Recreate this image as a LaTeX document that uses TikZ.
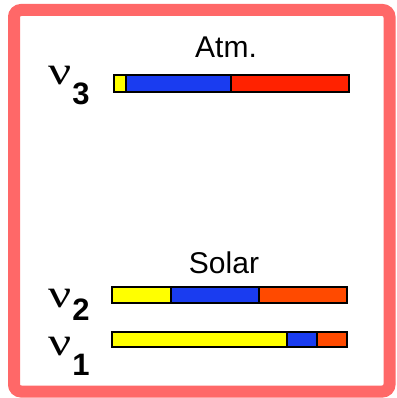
\documentclass[tikz,border=0pt]{standalone}
\usepackage{fontspec}
\usepackage{graphicx}
\setmainfont{Liberation Sans}
\newfontfamily\grk{Liberation Serif}
\definecolor{frame}{HTML}{FF6868}
\definecolor{by}{HTML}{FFFF00}
\definecolor{bb}{HTML}{1A3CF0}
\definecolor{br}{HTML}{FF2200}
\definecolor{bo}{HTML}{FF4A00}
\tikzset{
  seg/.style={draw=black, line width=1.6pt},
  head/.style={font=\fontsize{30}{36}\selectfont, inner sep=0pt, anchor=base},
  nulab/.style={inner sep=0pt, anchor=base west},
}
\newcommand{\nulabel}[2]{\scalebox{1.28}[1]{\grk\fontsize{40}{44}\selectfont ν}\hspace{1pt}\raisebox{-#2pt}{\fontsize{31}{36}\selectfont\bfseries #1}}
\begin{document}
\begin{tikzpicture}[x=1pt,y=-1pt]
\useasboundingbox (0,0) rectangle (396,398);
\draw[frame, line width=12pt, rounded corners=7pt] (14,10) rectangle (389.5,391.5);
% headings
\node[head] (atm) at (226,58) {Atm.};
\node[head] (solar) at (224,273) {Solar};
% labels
\node[nulab] (n3) at (48,85) {\nulabel{3}{20}};
\node[nulab] (n2) at (48,307) {\nulabel{2}{13}};
\node[nulab] (n1) at (48,355) {\nulabel{1}{20}};
% nu3 bar
\fill[by] (114,75) rectangle (126,92);
\fill[bb] (126,75) rectangle (231,92);
\fill[br] (231,75) rectangle (349,92);
\draw[seg] (126,75) -- (126,92) (231,75) -- (231,92);
\draw[seg] (114,75) rectangle (349,92);
% nu2 bar
\fill[by] (112,287) rectangle (171,303);
\fill[bb] (171,287) rectangle (259,303);
\fill[bo] (259,287) rectangle (347,303);
\draw[seg] (171,287) -- (171,303) (259,287) -- (259,303);
\draw[seg] (112,287) rectangle (347,303);
% nu1 bar
\fill[by] (112,332) rectangle (287,347);
\fill[bb] (287,332) rectangle (317,347);
\fill[bo] (317,332) rectangle (347,347);
\draw[seg] (287,332) -- (287,347) (317,332) -- (317,347);
\draw[seg] (112,332) rectangle (347,347);
\end{tikzpicture}
\end{document}
